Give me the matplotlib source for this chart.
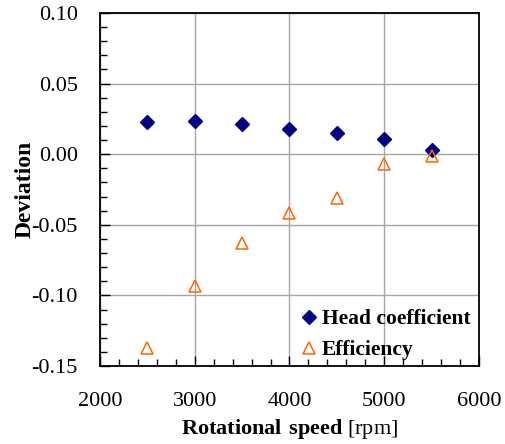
import numpy as np
import matplotlib.pyplot as plt
from matplotlib.ticker import MultipleLocator, FormatStrFormatter

plt.rcParams['font.family'] = ['Liberation Serif', 'DejaVu Serif']
plt.rcParams['mathtext.fontset'] = 'custom'
plt.rcParams['mathtext.rm'] = 'Liberation Serif'
plt.rcParams['mathtext.bf'] = 'Liberation Serif:bold'

speed = [2500, 3000, 3500, 4000, 4500, 5000, 5500]
head = [0.0225, 0.0234, 0.0215, 0.018, 0.0147, 0.011, 0.0033]
eff = [-0.137, -0.093, -0.0626, -0.0414, -0.0307, -0.0071, -0.0014]

fig = plt.figure(figsize=(5.06, 4.44), dpi=100)
ax = fig.add_axes([100/506, 1-366/444, 379/506, 353/444])

ax.plot(speed, head, 'D', color='#000080', ms=7.5, label='Head coefficient', zorder=3)
ax.plot(speed, eff, '^', mfc='none', mec='#FF6600', mew=1.1, ms=9, label='Efficiency', zorder=3)

ax.set_xlim(2000, 6000)
ax.set_ylim(-0.15, 0.10)
ax.xaxis.set_major_locator(MultipleLocator(1000))
ax.xaxis.set_minor_locator(MultipleLocator(200))
ax.yaxis.set_major_locator(MultipleLocator(0.05))
ax.yaxis.set_minor_locator(MultipleLocator(0.01))
ax.yaxis.set_major_formatter(FormatStrFormatter('%.2f'))
ax.grid(True, which='major', color='#a6a6a6', lw=1)
ax.tick_params(which='both', direction='in', labelsize=16, top=False, right=False)
ax.tick_params(which='major', length=7, width=1)
ax.tick_params(which='minor', length=5, width=1)
ax.tick_params(axis='x', pad=19)
ax.tick_params(axis='y', pad=16)
for s in ax.spines.values():
    s.set_linewidth(1.3)

ax.set_xlabel(r'$\mathbf{Rotational\ speed}$ [rpm]', fontsize=16, labelpad=4)
ax.set_ylabel('Deviation', fontsize=17, fontweight='bold', labelpad=-3)

leg = ax.legend(loc='lower right', frameon=False, prop={'size': 15.5, 'weight': 'bold'},
                handletextpad=0.1, handlelength=1.0, labelspacing=0.5,
                borderaxespad=0.0, bbox_to_anchor=(1.0, -0.008))

fig.savefig('out.png', dpi=100)
